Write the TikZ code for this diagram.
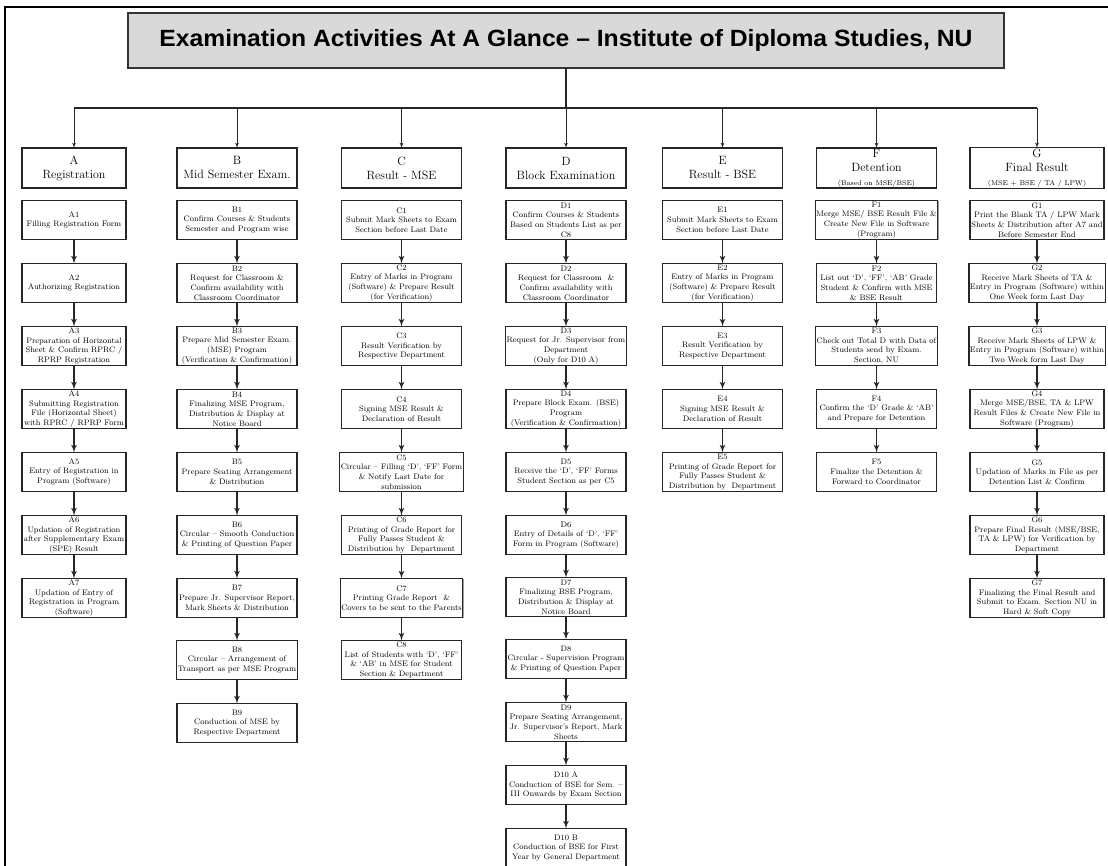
\documentclass[tikz,border=0pt]{standalone}
\usepackage{fontspec}
\usepackage{graphicx}
\usetikzlibrary{shapes,arrows,calc,shadows}
\newfontfamily\titlefont{Liberation Sans}

\begin{document}
\begin{tikzpicture}[x=1pt, y=-1pt, outer sep=0pt, >=latex',
  title_box/.style={draw=black!80, line width=1.2pt, fill=black!15, minimum width=876pt, minimum height=55pt, drop shadow={shadow xshift=1pt, shadow yshift=-1pt, fill=black!60}},
  head_box/.style={draw=black!85, line width=1.1pt, fill=white, align=center, minimum height=40pt, inner sep=1pt, font=\fontsize{12}{14}\selectfont, drop shadow={shadow xshift=0.9pt, shadow yshift=-0.9pt, fill=black!75}},
  step_box/.style={draw=black!85, line width=1.1pt, fill=white, align=center, minimum height=39pt, inner sep=1pt, font=\fontsize{8}{9.7}\selectfont, drop shadow={shadow xshift=0.9pt, shadow yshift=-0.9pt, fill=black!75}},
  col_a/.style={minimum width=104pt},
  col_b/.style={minimum width=120pt},
  col_g/.style={minimum width=134pt},
  link/.style={->, line width=1.6pt, black!85},
  bus_line/.style={line width=1.4pt, black!85},
  drop/.style={->, line width=0.8pt, black!85}]

\useasboundingbox (0,0) rectangle (1108,866);
% outer frame
\draw[line width=1.4pt] (5,866) -- (5,7) -- (1108,7);

\node[title_box] at (566, 40.5) (TITLE) {\scalebox{1.05}[1]{\titlefont\bfseries\fontsize{23.5}{26}\selectfont Examination Activities At A Glance – Institute of Diploma Studies, NU}};

% headers
\node[head_box, col_a] at (74, 168) (HEAD_A) {A\\Registration};
\node[head_box, col_b] at (237, 168) (HEAD_B) {B\\Mid Semester Exam.};
\node[head_box, col_b] at (401.5, 168) (HEAD_C) {C\\Result - MSE};
\node[head_box, col_b] at (566, 168) (HEAD_D) {D\\Block Examination};
\node[head_box, col_b] at (722.5, 168) (HEAD_E) {E\\Result - BSE};
\node[head_box, col_b] at (876.5, 168) (HEAD_F) {F\\Detention\\{\fontsize{7}{8}\selectfont (Based on MSE/BSE)}};
\node[head_box, col_g] at (1037, 168) (HEAD_G) {G\\Final Result\\{\fontsize{7}{8}\selectfont (MSE + BSE / TA / LPW)}};

\coordinate (BUS_L) at (74, 108);
\coordinate (BUS_R) at (1037, 108);
\draw[bus_line] (BUS_L) -- (BUS_R);
\draw[bus_line] (TITLE.south) -- (TITLE.south |- BUS_L);
\draw[drop] (HEAD_A.north |- BUS_L) -- (HEAD_A.north);
\draw[drop] (HEAD_B.north |- BUS_L) -- (HEAD_B.north);
\draw[drop] (HEAD_C.north |- BUS_L) -- (HEAD_C.north);
\draw[drop] (HEAD_D.north |- BUS_L) -- (HEAD_D.north);
\draw[drop] (HEAD_E.north |- BUS_L) -- (HEAD_E.north);
\draw[drop] (HEAD_F.north |- BUS_L) -- (HEAD_F.north);
\draw[drop] (HEAD_G.north |- BUS_L) -- (HEAD_G.north);

% A - Registration
\node[step_box, col_a] at (74, 220) (A1) {A1\\Filling Registration Form};
\node[step_box, col_a] at (74, 283) (A2) {A2\\Authorizing Registration};
\node[step_box, col_a] at (74, 346) (A3) {A3\\Preparation of Horizontal\\Sheet \& Confirm RPRC /\\RPRP Registration};
\node[step_box, col_a] at (74, 409) (A4) {A4\\Submitting Registration\\File (Horizontal Sheet)\\with RPRC / RPRP Form};
\node[step_box, col_a] at (74, 472) (A5) {A5\\Entry of Registration in\\Program (Software)};
\node[step_box, col_a] at (74, 535) (A6) {A6\\Updation of Registration\\after Supplementary Exam\\(SPE) Result};
\node[step_box, col_a] at (74, 598) (A7) {A7\\Updation of Entry of\\Registration in Program\\(Software)};
\draw[link] (A1) -- (A2); \draw[link] (A2) -- (A3); \draw[link] (A3) -- (A4);
\draw[link] (A4) -- (A5); \draw[link] (A5) -- (A6); \draw[link] (A6) -- (A7);

% B - Mid Semester Exam.
\node[step_box, col_b] at (237, 220) (B1) {B1\\Confirm Courses \& Students\\Semester and Program wise};
\node[step_box, col_b] at (237, 283) (B2) {B2\\Request for Classroom \&\\Confirm availability with\\Classroom Coordinator};
\node[step_box, col_b] at (237, 346) (B3) {B3\\Prepare Mid Semester Exam.\\(MSE) Program\\(Verification \& Confirmation)};
\node[step_box, col_b] at (237, 409) (B4) {B4\\Finalizing MSE Program,\\Distribution \& Display at\\Notice Board};
\node[step_box, col_b] at (237, 472) (B5) {B5\\Prepare Seating Arrangement\\\& Distribution};
\node[step_box, col_b] at (237, 535) (B6) {B6\\Circular -- Smooth Conduction\\\& Printing of Question Paper};
\node[step_box, col_b] at (237, 598) (B7) {B7\\Prepare Jr. Supervisor Report,\\Mark Sheets \& Distribution};
\node[step_box, col_b] at (237, 660) (B8) {B8\\Circular -- Arrangement of\\Transport as per MSE Program};
\node[step_box, col_b] at (237, 723) (B9) {B9\\Conduction of MSE by\\Respective Department};
\draw[link] (B1) -- (B2); \draw[link] (B2) -- (B3); \draw[link] (B3) -- (B4); \draw[link] (B4) -- (B5);
\draw[link] (B5) -- (B6); \draw[link] (B6) -- (B7); \draw[link] (B7) -- (B8); \draw[link] (B8) -- (B9);

% C - Result - MSE
\node[step_box, col_b] at (401.5, 220) (C1) {C1\\Submit Mark Sheets to Exam\\Section before Last Date};
\node[step_box, col_b] at (401.5, 283) (C2) {C2\\Entry of Marks in Program\\(Software) \& Prepare Result\\(for Verification)};
\node[step_box, col_b] at (401.5, 346) (C3) {C3\\Result Verification by\\Respective Department};
\node[step_box, col_b] at (401.5, 409) (C4) {C4\\Signing MSE Result \&\\Declaration of Result};
\node[step_box, col_b] at (401.5, 472) (C5) {C5\\Circular -- Filling `D', `FF' Form\\\& Notify Last Date for\\submission};
\node[step_box, col_b] at (401.5, 535) (C6) {C6\\Printing of Grade Report for\\Fully Passes Student \&\\Distribution by~~Department};
\node[step_box, col_b] at (401.5, 598) (C7) {C7\\Printing Grade Report~~\&\\Covers to be sent to the Parents};
\node[step_box, col_b] at (401.5, 660) (C8) {C8\\List of Students with `D', `FF'\\\& `AB' in MSE for Student\\Section \& Department};
\draw[link] (C1) -- (C2); \draw[link] (C2) -- (C3); \draw[link] (C3) -- (C4); \draw[link] (C4) -- (C5);
\draw[link] (C5) -- (C6); \draw[link] (C6) -- (C7); \draw[link] (C7) -- (C8);

% D - Block Examination
\node[step_box, col_b] at (566, 220) (D1) {D1\\Confirm Courses \& Students\\Based on Students List as per\\C8};
\node[step_box, col_b] at (566, 283) (D2) {D2\\Request for Classroom~~\&\\Confirm availability with\\Classroom Coordinator};
\node[step_box, col_b] at (566, 346) (D3) {D3\\Request for Jr. Supervisor from\\Department\\(Only for D10 A)};
\node[step_box, col_b] at (566, 409) (D4) {D4\\Prepare Block Exam. (BSE)\\Program\\(Verification \& Confirmation)};
\node[step_box, col_b] at (566, 472) (D5) {D5\\Receive the `D', `FF' Forms\\Student Section as per C5};
\node[step_box, col_b] at (566, 535) (D6) {D6\\Entry of Details of `D', `FF'\\Form in Program (Software)};
\node[step_box, col_b] at (566, 597) (D7) {D7\\Finalizing BSE Program,\\Distribution \& Display at\\Notice Board};
\node[step_box, col_b] at (566, 659) (D8) {D8\\Circular - Supervision Program\\\& Printing of Question Paper};
\node[step_box, col_b] at (566, 722) (D9) {D9\\Prepare Seating Arrangement,\\Jr. Supervisor's Report, Mark\\Sheets};
\node[step_box, col_b] at (566, 785) (D10A) {D10 A\\Conduction of BSE for Sem. --\\III Onwards by Exam Section};
\node[step_box, col_b] at (566, 848) (D10B) {D10 B\\Conduction of BSE for First\\Year by General Department};
\draw[link] (D1) -- (D2); \draw[link] (D2) -- (D3); \draw[link] (D3) -- (D4); \draw[link] (D4) -- (D5);
\draw[link] (D5) -- (D6); \draw[link] (D6) -- (D7); \draw[link] (D7) -- (D8); \draw[link] (D8) -- (D9);
\draw[link] (D9) -- (D10A); \draw[link] (D10A) -- (D10B);

% E - Result - BSE
\node[step_box, col_b] at (722.5, 220) (E1) {E1\\Submit Mark Sheets to Exam\\Section before Last Date};
\node[step_box, col_b] at (722.5, 283) (E2) {E2\\Entry of Marks in Program\\(Software) \& Prepare Result\\(for Verification)};
\node[step_box, col_b] at (722.5, 346) (E3) {E3\\Result Verification by\\Respective Department};
\node[step_box, col_b] at (722.5, 409) (E4) {E4\\Signing MSE Result \&\\Declaration of Result};
\node[step_box, col_b] at (722.5, 472) (E5) {E5\\Printing of Grade Report for\\Fully Passes Student \&\\Distribution by~~Department};
\draw[link] (E1) -- (E2); \draw[link] (E2) -- (E3); \draw[link] (E3) -- (E4); \draw[link] (E4) -- (E5);

% F - Detention
\node[step_box, col_b] at (876.5, 220) (F1) {F1\\Merge MSE/ BSE Result File \&\\Create New File in Software\\(Program)};
\node[step_box, col_b] at (876.5, 283) (F2) {F2\\List out `D', `FF', `AB' Grade\\Student \& Confirm with MSE\\\& BSE Result};
\node[step_box, col_b] at (876.5, 346) (F3) {F3\\Check out Total D with Data of\\Students send by Exam.\\Section, NU};
\node[step_box, col_b] at (876.5, 409) (F4) {F4\\Confirm the `D' Grade \& `AB'\\and Prepare for Detention};
\node[step_box, col_b] at (876.5, 472) (F5) {F5\\Finalize the Detention \&\\Forward to Coordinator};
\draw[link] (F1) -- (F2); \draw[link] (F2) -- (F3); \draw[link] (F3) -- (F4); \draw[link] (F4) -- (F5);

% G - Final Result
\node[step_box, col_g] at (1037, 220) (G1) {G1\\Print the Blank TA / LPW Mark\\Sheets \& Distribution after A7 and\\Before Semester End};
\node[step_box, col_g] at (1037, 283) (G2) {G2\\Receive Mark Sheets of TA \&\\Entry in Program (Software) within\\One Week form Last Day};
\node[step_box, col_g] at (1037, 346) (G3) {G3\\Receive Mark Sheets of LPW \&\\Entry in Program (Software) within\\Two Week form Last Day};
\node[step_box, col_g] at (1037, 409) (G4) {G4\\Merge MSE/BSE, TA \& LPW\\Result Files \& Create New File in\\Software (Program)};
\node[step_box, col_g] at (1037, 472) (G5) {G5\\Updation of Marks in File as per\\Detention List \& Confirm};
\node[step_box, col_g] at (1037, 535) (G6) {G6\\Prepare Final Result (MSE/BSE,\\TA \& LPW) for Verification by\\Department};
\node[step_box, col_g] at (1037, 598) (G7) {G7\\Finalizing the Final Result and\\Submit to Exam. Section NU in\\Hard \& Soft Copy};
\draw[link] (G1) -- (G2); \draw[link] (G2) -- (G3); \draw[link] (G3) -- (G4);
\draw[link] (G4) -- (G5); \draw[link] (G5) -- (G6); \draw[link] (G6) -- (G7);
\end{tikzpicture}
\end{document}
